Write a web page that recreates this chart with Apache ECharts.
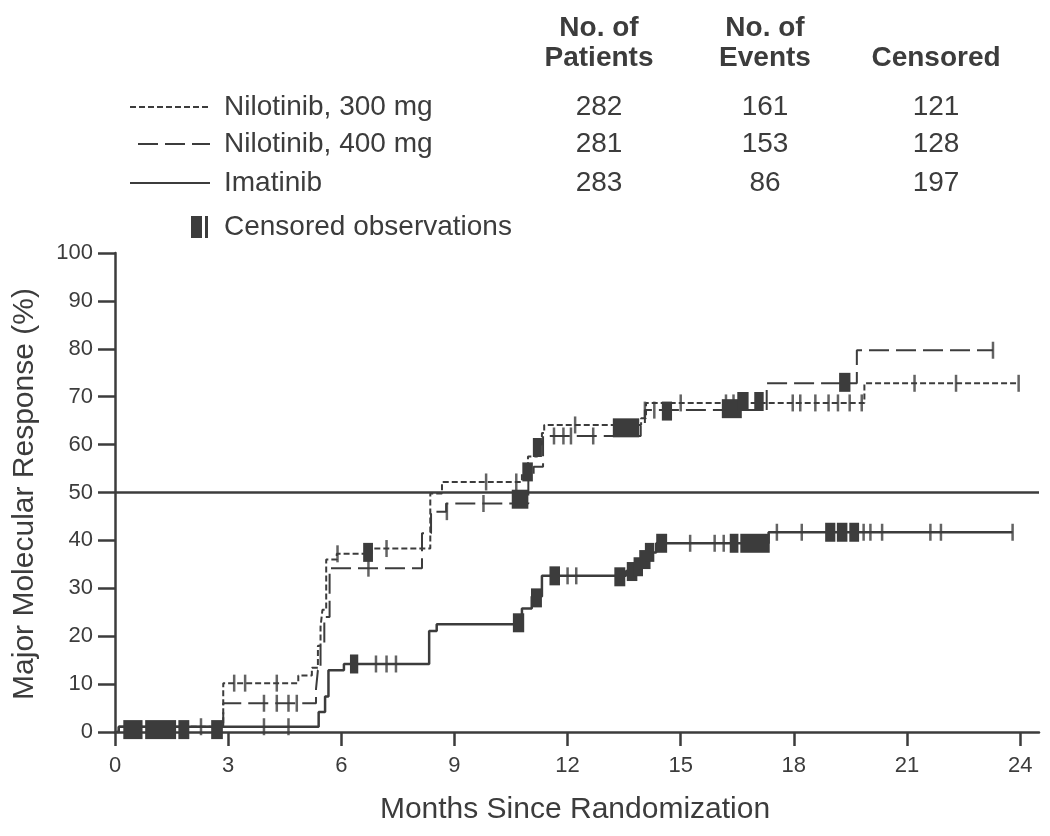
<!DOCTYPE html>
<html>
<head>
<meta charset="utf-8">
<script src="https://cdn.jsdelivr.net/npm/echarts@6/dist/echarts.min.js"></script>
<style>
html,body{margin:0;padding:0;background:#fff;}
#chart{width:1050px;height:836px;}
</style>
</head>
<body>
<div id="chart"></div>
<script>
// ---------- data ----------
const xTicks = [0, 3, 6, 9, 12, 15, 18, 21, 24];
const yTicks = [0, 10, 20, 30, 40, 50, 60, 70, 80, 90, 100];
const referenceLevel = 50;

const groupNames = ['Nilotinib, 300 mg', 'Nilotinib, 400 mg', 'Imatinib'];
const nPatients = [282, 281, 283];
const nEvents = [161, 153, 86];
const nCensored = [121, 128, 197];
const headers = ['No. of\nPatients', 'No. of\nEvents', 'Censored'];
const censorLabel = 'Censored observations';
const xTitle = 'Months Since Randomization';
const yTitle = 'Major Molecular Response (%)';

// step curves: [month, cumulative response % after the step]
const nil300Steps = [[0,0],[0.1,1.1],[2.87,10.2],[4.86,11.8],[5.22,13.4],[5.38,18],[5.45,22],[5.5,25.5],[5.6,36],[5.88,37.2],[6.8,38.3],[8.36,49.8],[8.67,52.2],[10.79,54],[10.95,57.5],[11.2,60],[11.32,62.4],[11.38,64.1],[13.95,65.5],[14.08,68.7],[19.87,72.8],[23.96,72.8]];
const nil400Steps = [[0,0],[0.1,1.1],[2.87,6],[5.33,9],[5.38,12.9],[5.45,18],[5.55,24],[5.69,34.2],[8.14,41.5],[8.38,46],[8.78,47.7],[10.96,53],[11.1,55.4],[11.35,61.8],[13.94,64],[14.05,67.2],[17.28,72.8],[19.67,79.7],[23.28,79.7]];
const imaSteps = [[0,0],[0.1,1.1],[5.4,4.2],[5.57,7.4],[5.66,12.9],[6.07,14.2],[8.33,21.1],[8.53,22.5],[10.79,25.8],[11.05,28.3],[11.32,32.6],[13.55,33.6],[13.75,34.5],[13.95,35.5],[14.15,37.5],[14.35,39.4],[17.33,41.7],[23.8,41.7]];

// single censored observations: [month, %]
const nil300Ticks = [[3.16,10.2],[3.45,10.2],[4.29,10.2],[5.9,37.2],[7.2,38.3],[9.84,52.2],[10.64,52.2],[12.2,64.1],[15.0,68.7],[16.2,68.7],[16.4,68.7],[17.97,68.7],[18.17,68.7],[18.57,68.7],[18.92,68.7],[19.17,68.7],[19.48,68.7],[19.8,68.7],[21.2,72.8],[22.3,72.8],[23.96,72.8]];
const nil400Ticks = [[3.95,6],[4.29,6],[4.6,6],[4.82,6],[6.72,34.2],[8.8,46],[9.77,47.7],[11.64,61.8],[11.89,61.8],[12.09,61.8],[12.68,61.8],[14.05,67.2],[14.3,67.2],[23.28,79.7]];
const imaTicks = [[2.28,1.1],[3.95,1.1],[4.6,1.1],[6.92,14.2],[7.2,14.2],[7.45,14.2],[12.0,32.6],[12.23,32.6],[15.25,39.4],[15.9,39.4],[16.14,39.4],[17.55,41.7],[18.21,41.7],[19.85,41.7],[20.03,41.7],[20.34,41.7],[21.62,41.7],[21.9,41.7],[23.8,41.7]];

// clusters of censored observations: [from month, to month, %]
const nil300Boxes = [[6.58,6.84,37.5],[10.8,11.08,54.3],[11.08,11.32,59.4],[13.2,13.9,63.5],[16.09,16.62,67.5],[16.5,16.8,69],[16.95,17.2,69]];
const nil400Boxes = [[10.52,10.96,48.6],[14.5,14.77,67],[19.2,19.5,73]];
const imaBoxes = [[0.22,0.73,0.5],[0.8,1.62,0.5],[1.68,1.97,0.5],[2.55,2.86,0.5],[6.23,6.45,14.2],[10.55,10.85,22.8],[11.03,11.32,28],[11.52,11.8,32.6],[13.24,13.53,32.4],[13.57,13.85,33.5],[13.75,14.0,34.5],[13.9,14.2,36],[14.05,14.3,37.5],[14.35,14.64,39.4],[16.3,16.53,39.4],[16.58,17.36,39.4],[18.83,19.1,41.7],[19.14,19.42,41.7],[19.47,19.73,41.7]];

// ---------- chart ----------
const INK = '#3c3c3c';
const FONT = '"Liberation Sans", Arial, sans-serif';
const chart = echarts.init(document.getElementById('chart'), null, {renderer: 'canvas'});

function lineSeries(name, data, dash, width) {
  return {
    name: name, type: 'line', step: 'end', data: data, showSymbol: false, silent: true,
    lineStyle: {color: INK, width: width, type: dash}, z: 3
  };
}
function tickSeries(data) {
  return {
    type: 'scatter', data: data, symbol: 'rect', symbolSize: [2.5, 17], silent: true,
    itemStyle: {color: INK}, z: 4
  };
}
function boxSeries(data) {
  return {
    type: 'custom', data: data, silent: true, z: 5,
    encode: {x: [0, 1], y: 2},
    renderItem: function (params, api) {
      const a = api.coord([api.value(0), api.value(2)]);
      const b = api.coord([api.value(1), api.value(2)]);
      return {
        type: 'rect',
        shape: {x: a[0], y: a[1] - 9.5, width: Math.max(b[0] - a[0], 3), height: 19},
        style: {fill: INK}
      };
    }
  };
}

const gridLeft = 115, gridTop = 253, gridRight = 11, gridBottom = 104;

// legend / table graphics
const graphics = [];
const colX = [599, 765, 936];
headers.forEach(function (h, i) {
  const lines = h.split('\n');
  lines.forEach(function (ln, k) {
    const y = lines.length === 2 ? (k === 0 ? 28 : 58) : 58;
    graphics.push({type: 'text', x: colX[i], y: y, silent: true,
      style: {text: ln, font: 'bold 28px ' + FONT, fill: INK, align: 'center', verticalAlign: 'middle'}});
  });
});
const rowY = [107, 144, 183];
const dashes = [[6, 3], [20, 7], null];
groupNames.forEach(function (g, i) {
  graphics.push({type: 'line', silent: true, shape: {x1: i === 1 ? 138 : 130, y1: rowY[i], x2: 210, y2: rowY[i]},
    style: {stroke: INK, lineWidth: 2, lineDash: dashes[i]}});
  graphics.push({type: 'text', x: 224, y: rowY[i], silent: true,
    style: {text: g, font: '28px ' + FONT, fill: INK, align: 'left', verticalAlign: 'middle'}});
  [nPatients[i], nEvents[i], nCensored[i]].forEach(function (v, c) {
    graphics.push({type: 'text', x: colX[c], y: rowY[i], silent: true,
      style: {text: String(v), font: '28px ' + FONT, fill: INK, align: 'center', verticalAlign: 'middle'}});
  });
});
graphics.push({type: 'rect', silent: true, shape: {x: 191, y: 216, width: 11, height: 22}, style: {fill: INK}});
graphics.push({type: 'rect', silent: true, shape: {x: 205, y: 216, width: 3, height: 22}, style: {fill: INK}});
graphics.push({type: 'text', x: 224, y: 227, silent: true,
  style: {text: censorLabel, font: '28px ' + FONT, fill: INK, align: 'left', verticalAlign: 'middle'}});
// axis titles
graphics.push({type: 'text', x: 25, y: 494, rotation: Math.PI / 2, silent: true,
  style: {text: yTitle, font: '30px ' + FONT, fill: INK, align: 'center', verticalAlign: 'middle'}});
graphics.push({type: 'text', x: 575, y: 810, silent: true,
  style: {text: xTitle, font: '30px ' + FONT, fill: INK, align: 'center', verticalAlign: 'middle'}});

const option = {
  animation: false,
  backgroundColor: '#fff',
  textStyle: {fontFamily: FONT},
  grid: {left: gridLeft, top: gridTop, right: gridRight, bottom: gridBottom, containLabel: false},
  xAxis: {
    type: 'value', min: 0, max: 24.5,
    splitLine: {show: false},
    axisLine: {show: true, onZero: false, lineStyle: {color: INK, width: 2.5}},
    axisTick: {show: true, inside: false, length: 14, customValues: xTicks, lineStyle: {color: INK, width: 2.5}},
    axisLabel: {customValues: xTicks, fontSize: 22, color: INK, margin: 23, fontFamily: FONT}
  },
  yAxis: {
    type: 'value', min: 0, max: 100, interval: 10,
    splitLine: {show: false},
    axisLine: {show: true, onZero: false, lineStyle: {color: INK, width: 2.5}},
    axisTick: {show: true, inside: false, length: 17, customValues: yTicks, lineStyle: {color: INK, width: 2.5}},
    axisLabel: {customValues: yTicks, fontSize: 22, color: INK, margin: 22, fontFamily: FONT}
  },
  graphic: graphics,
  series: [
    Object.assign(lineSeries(groupNames[2], imaSteps, 'solid', 2.5), {
      markLine: {silent: true, symbol: ['none', 'none'], label: {show: false},
        lineStyle: {color: INK, width: 2.5, type: 'solid'}, data: [{yAxis: referenceLevel}]}
    }),
    lineSeries(groupNames[1], nil400Steps, [20, 7], 2),
    lineSeries(groupNames[0], nil300Steps, [6, 3], 2),
    tickSeries(imaTicks), tickSeries(nil400Ticks), tickSeries(nil300Ticks),
    boxSeries(imaBoxes), boxSeries(nil400Boxes), boxSeries(nil300Boxes)
  ]
};
chart.setOption(option);
</script>
</body>
</html>
